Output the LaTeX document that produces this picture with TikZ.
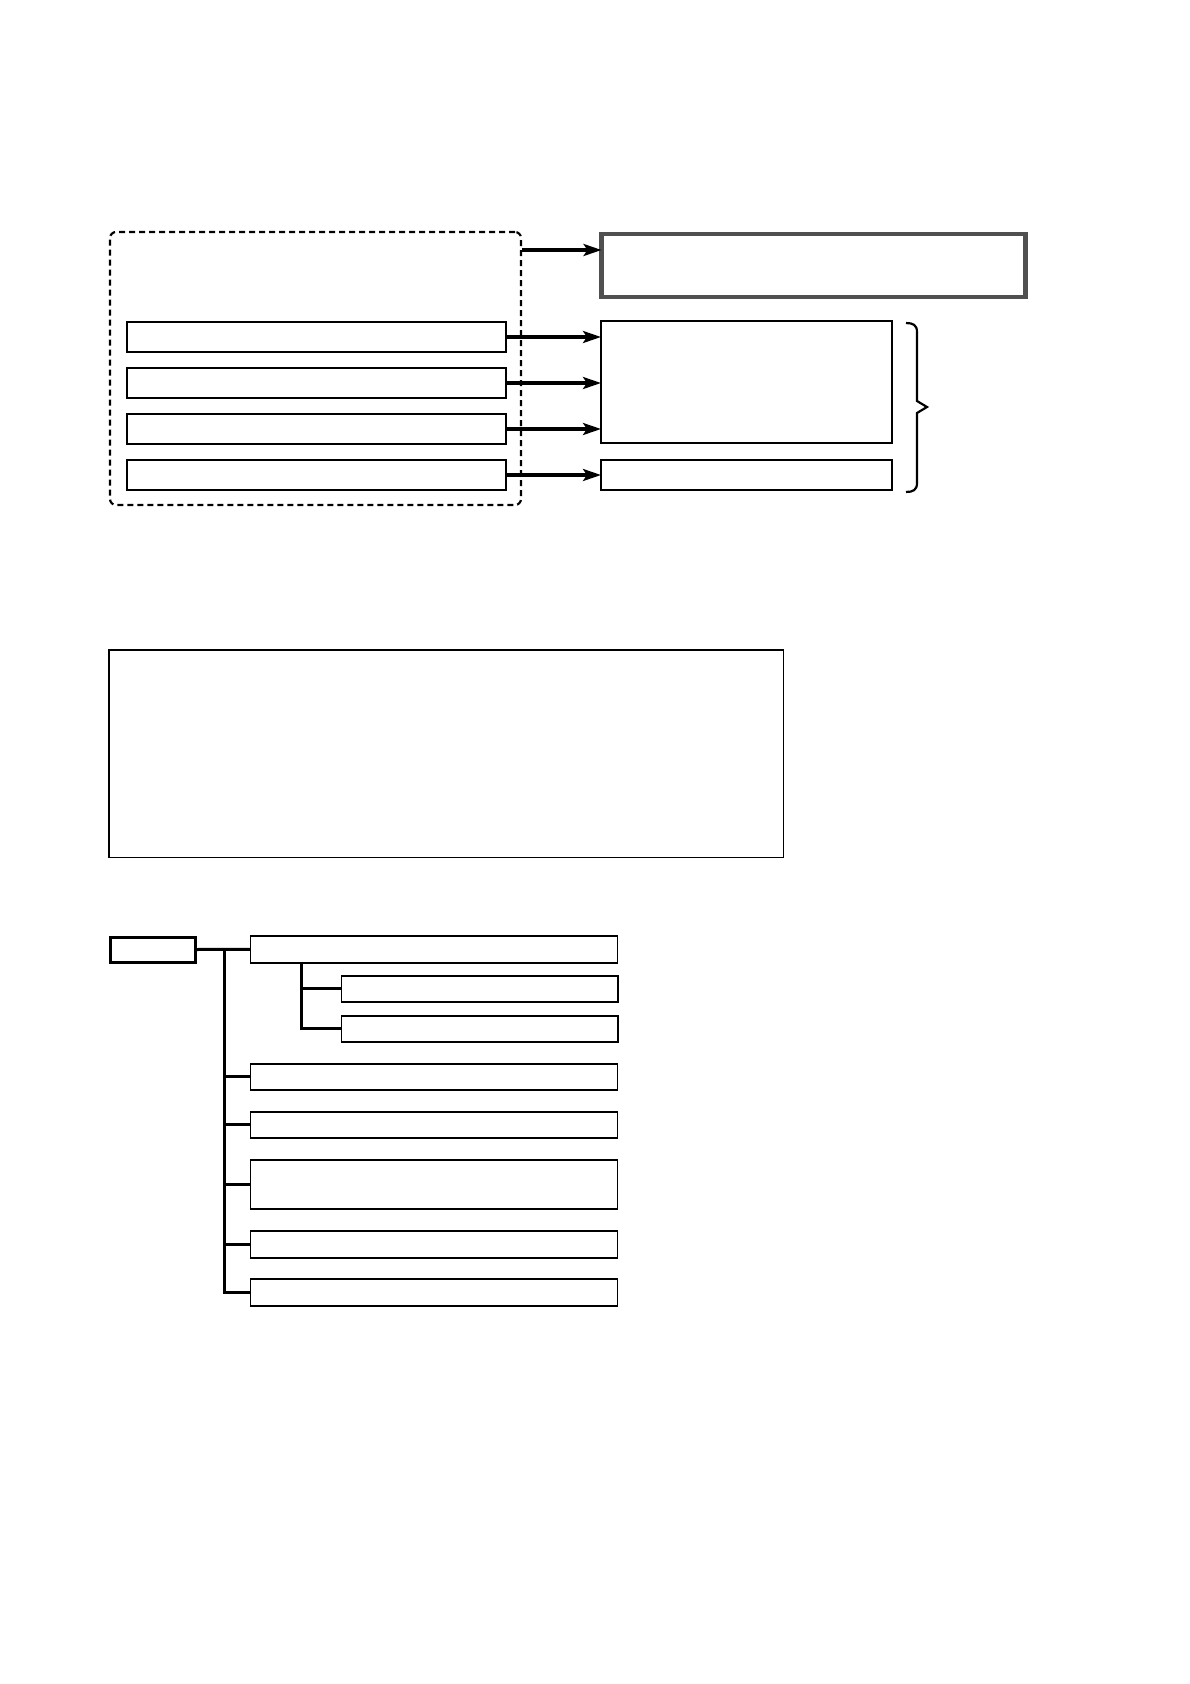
\documentclass[tikz,border=0pt]{standalone}
\usetikzlibrary{arrows.meta,calc}
\definecolor{boxgray}{HTML}{505050}
\begin{document}
\begin{tikzpicture}[x=1pt,y=-1pt,
  box/.style={draw=black,rectangle,inner sep=0pt,outer sep=0pt,line width=#1},
  box/.default=2pt,
  grp/.style={draw=black,rectangle,rounded corners=6pt,dash pattern=on 6pt off 4pt,line width=2.2pt,inner sep=0pt,outer sep=0pt},
  arr/.style={line width=3.2pt,-{Stealth[length=18pt,width=12pt,inset=4pt]}},
  conn/.style={line width=3pt},
  bracestyle/.style={line width=2.2pt}
]
\useasboundingbox (0,0) rectangle (1190,1684);

% ---- top part ----
\node[grp,minimum width=411pt,minimum height=273pt] (group) at (315.5,368.5) {};
\node[box=2.5pt,minimum width=379pt,minimum height=30pt] (l1) at (316.5,337) {};
\node[box=2.5pt,minimum width=379pt,minimum height=30pt] (l2) at (316.5,383) {};
\node[box=2.5pt,minimum width=379pt,minimum height=30pt] (l3) at (316.5,429) {};
\node[box=2.5pt,minimum width=379pt,minimum height=30pt] (l4) at (316.5,475) {};

\node[draw=boxgray,line width=4.2pt,rectangle,inner sep=0pt,outer sep=0pt,minimum width=424pt,minimum height=63pt] (gbox) at (813.5,265.5) {};
\node[box=2.5pt,minimum width=291pt,minimum height=122pt] (rbig) at (746.5,382) {};
\node[box=2.5pt,minimum width=291pt,minimum height=30pt] (rsmall) at (746.5,475) {};

\coordinate (a0) at (522,250);
\draw[arr] (a0) -- (a0 -| gbox.west);
\draw[arr] (l1.east) -- (l1.east -| rbig.west);
\draw[arr] (l2.east) -- (l2.east -| rbig.west);
\draw[arr] (l3.east) -- (l3.east -| rbig.west);
\draw[arr] (l4.east) -- (rsmall.west);

\coordinate (bt) at (906,323);
\coordinate (bb) at (906,492);
\draw[bracestyle] (bt) .. controls (913,323) and (917,325) .. (917,332)
  -- (917,401) -- (927,407) -- (917,413) -- (917,483)
  .. controls (917,490) and (913,492) .. (bb);

% ---- middle box ----
\node[box=1.5pt,minimum width=674.5pt,minimum height=207.5pt] (mid) at (446,753.5) {};

% ---- tree ----
\node[box=3pt,minimum width=85pt,minimum height=25pt] (root) at (152.5,949.5) {};
\node[box=1.7pt,minimum width=367pt,minimum height=27pt] (c1) at (434,949.3) {};
\node[box=1.7pt,minimum width=276.5pt,minimum height=26pt] (s1) at (479.7,988.8) {};
\node[box=1.7pt,minimum width=276.5pt,minimum height=26pt] (s2) at (479.7,1028.8) {};
\node[box=1.7pt,minimum width=367pt,minimum height=26pt] (c2) at (434,1076.8) {};
\node[box=1.7pt,minimum width=367pt,minimum height=26pt] (c3) at (434,1124.8) {};
\node[box=1.7pt,minimum width=367pt,minimum height=49pt] (c4) at (434,1184.3) {};
\node[box=1.7pt,minimum width=367pt,minimum height=27pt] (c5) at (434,1244.3) {};
\node[box=1.7pt,minimum width=367pt,minimum height=27pt] (c6) at (434,1292.3) {};

\coordinate (tk) at (224,949.5);
\draw[conn] (root.east) -- (c1.west);
\draw[conn] (tk) |- (c6.west);
\draw[conn] (tk |- c2.west) -- (c2.west);
\draw[conn] (tk |- c3.west) -- (c3.west);
\draw[conn] (tk |- c4.west) -- (c4.west);
\draw[conn] (tk |- c5.west) -- (c5.west);

\coordinate (st) at (301,963);
\draw[conn] (st) |- (s2.west);
\draw[conn] (st |- s1.west) -- (s1.west);
\end{tikzpicture}
\end{document}
